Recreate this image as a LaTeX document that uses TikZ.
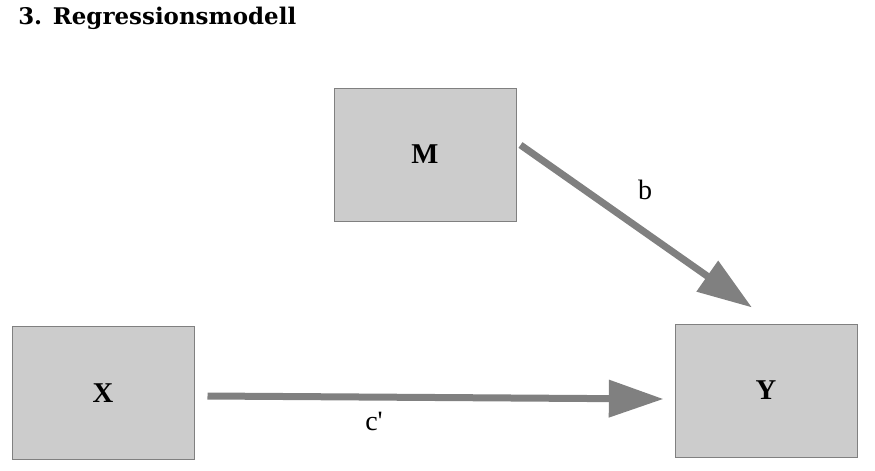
\documentclass[tikz,border=0pt]{standalone}
\usepackage{fontspec}
\setmainfont{Liberation Serif}
\newfontfamily\labfont{Liberation Serif}[Ligatures=TeXOff]
\newfontfamily\titlefont{DejaVu Serif}
\usetikzlibrary{arrows.meta,calc}
\definecolor{boxfill}{HTML}{CCCCCC}
\definecolor{boxline}{HTML}{808080}
\definecolor{arr}{HTML}{808080}
\begin{document}
\begin{tikzpicture}[x=0.75pt,y=-0.75pt,
  box/.style={draw=boxline, fill=boxfill, line width=0.75pt, minimum width=136.5pt, minimum height=99.75pt, inner sep=0pt, font=\fontsize{21.5}{24}\selectfont\bfseries},
  conn/.style={draw=arr, line width=5.25pt, -{Triangle[length=41pt,width=27pt]}},
  lab/.style={font=\labfont\fontsize{21}{24}\selectfont, inner sep=0pt}]
\useasboundingbox (0,0) rectangle (875,471);
\node[anchor=base west, inner sep=0pt, font=\titlefont\bfseries\fontsize{17.2}{20}\selectfont] (T) at (18,25) {3. Regressionsmodell};
\node[box] (M) at (425,154.5) {M};
\node[box] (X) at (103,393) {X};
\node[box] (Y) at (766,390.5) {Y};
\coordinate (ms) at ($(M.east)+(4,-9.5)$);
\coordinate (ye1) at ($(Y.north)+(-14,-16)$);
\coordinate (xs) at ($(X.east)+(13,3)$);
\coordinate (ye2) at ($(Y.west)+(-11,8.5)$);
\draw[conn] (ms) -- (ye1);
\draw[conn] (xs) -- (ye2);
\node[lab] (b) at (645,190) {b};
\node[lab] (c) at (374,421) {c'};
\end{tikzpicture}
\end{document}
